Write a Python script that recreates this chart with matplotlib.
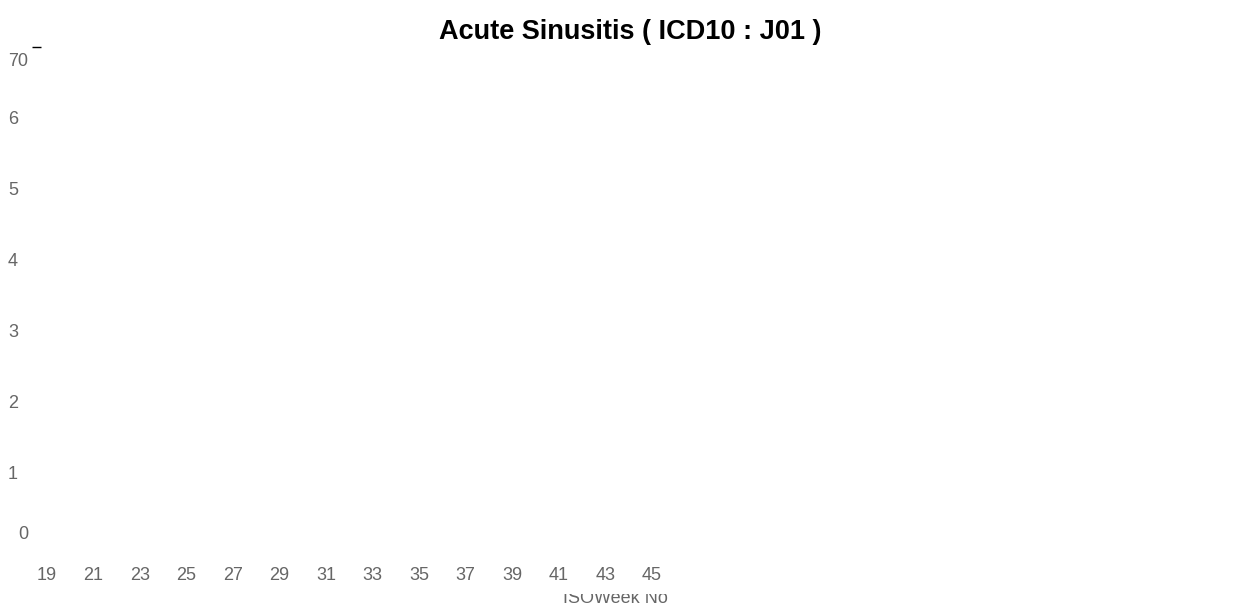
import matplotlib
matplotlib.use("Agg")
import matplotlib.pyplot as plt
import matplotlib.transforms as mtransforms

# chart text / ticks (the plot itself has no data marks)
title = "Acute Sinusitis ( ICD10 : J01 )"
x_label = "ISOWeek No"
week_ticks = list(range(19, 46, 2))
y_ticks = [0, 1, 2, 3, 4, 5, 6, 7]
y_tick_labels = ["0", "1", "2", "3", "4", "5", "6", "70"]

plt.rcParams['font.family'] = ['Liberation Sans', 'DejaVu Sans']

fig = plt.figure(figsize=(12.44, 6.06), dpi=100)
ax = fig.add_axes([0.033, 0.076, 0.947, 0.85])

ax.set_xlim(18.74, 69.4)
ax.set_ylim(-0.225, 7.03)

for s in ax.spines.values():
    s.set_visible(False)

ax.set_xticks(week_ticks)
ax.set_xticklabels([str(w) for w in week_ticks])
ax.set_yticks(y_ticks)
ax.set_yticklabels(y_tick_labels)
ax.tick_params(axis='both', length=0, labelsize=13, labelcolor='#666666')
ax.tick_params(axis='x', pad=5)
ax.tick_params(axis='y', pad=23.8)
for lab in ax.get_yticklabels():
    lab.set_horizontalalignment('left')

# nudge the first and last y labels like in the reference
labs = ax.get_yticklabels()
labs[0].set_transform(labs[0].get_transform() +
                      mtransforms.ScaledTranslation(10 / 100, 11 / 100, fig.dpi_scale_trans))
labs[-1].set_transform(labs[-1].get_transform() +
                       mtransforms.ScaledTranslation(0, -13 / 100, fig.dpi_scale_trans))

# only the top y tick shows a small tick mark
top_tick = ax.yaxis.get_major_ticks()[-1]
top_tick.tick1line.set_markersize(6.5)
top_tick.tick1line.set_markeredgewidth(1)
top_tick.tick1line.set_color('#333333')

ax.set_title(title, fontsize=19.5, fontweight='bold', pad=4)

# axis label, partly cut off at the top
xl = fig.text(0.495, -0.001, x_label, ha='center', va='bottom', fontsize=13, color='#666666')
xl.set_clip_box(mtransforms.TransformedBbox(mtransforms.Bbox.from_extents(0, 0, 1, 12 / 606), fig.transFigure))
xl.set_clip_on(True)

fig.savefig("out.png", dpi=100)
